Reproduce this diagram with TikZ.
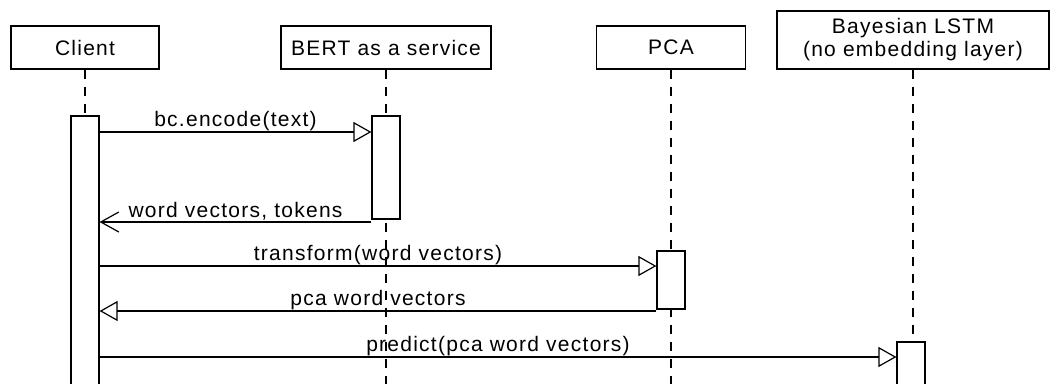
\documentclass[tikz,border=0pt]{standalone}
\usepackage{fontspec}
\setmainfont{Liberation Sans}[LetterSpace=6]
\usetikzlibrary{arrows.meta}

\begin{document}
\begin{tikzpicture}[
        x=1pt,y=-1pt,
        every node/.style={font=\fontsize{21}{23}\selectfont},
        lifebox/.style={draw,line width=1.2pt,minimum height=43pt,inner sep=0pt,align=center},
        activation/.style={draw,fill=white,line width=1.2pt,minimum width=28pt,inner sep=0pt},
        lifeline/.style={line width=1.2pt,dash pattern=on 9pt off 8pt},
        call/.style={line width=1.2pt,-{Triangle[open,length=18pt,width=20pt]}},
        reply/.style={line width=1.2pt,-{Straight Barb[length=18pt,width=20pt]}},
        msg/.style={midway,above,inner sep=1pt}
    ]
    \useasboundingbox (0,0) rectangle (1052,383);

    \node[lifebox,minimum width=148pt] (client) at (85,47.5) {Client};
    \node[lifebox,minimum width=210pt] (bert) at (386,47.5) {BERT as a service};
    \node[lifebox,minimum width=149pt] (pca) at (671,47.5) {PCA};
    \node[lifebox,minimum width=272pt,minimum height=58pt] (lstm) at (913,40)
        {Bayesian LSTM\\(no embedding layer)};

    \draw[lifeline] (client.south) -- (client.south |- 0,390);
    \draw[lifeline] (bert.south) -- (bert.south |- 0,390);
    \draw[lifeline] (pca.south) -- (pca.south |- 0,390);
    \draw[lifeline] (lstm.south) -- (lstm.south |- 0,390);

    \node[activation,minimum height=280pt] (clientact) at (85,256) {};
    \node[activation,minimum height=103pt] (bertact) at (386,167.5) {};
    \node[activation,minimum height=58pt] (pcaact) at (671,280) {};
    \node[activation,minimum height=50pt] (lstmact) at (911,367) {};

    \draw[call] (clientact.east |- 0,132) -- (bertact.west |- 0,132)
        node[msg] {bc.encode(text)};
    \draw[reply] (bertact.west |- 0,222) -- (clientact.east |- 0,222)
        node[msg] {word vectors, tokens};
    \draw[call] (clientact.east |- 0,266) -- (pcaact.west |- 0,266)
        node[msg] {transform(word vectors)};
    \draw[call] (pcaact.west |- 0,311) -- (clientact.east |- 0,311)
        node[msg] {pca word vectors};
    \draw[call] (clientact.east |- 0,357) -- (lstmact.west |- 0,357)
        node[msg] {predict(pca word vectors)};

\end{tikzpicture}
\end{document}
